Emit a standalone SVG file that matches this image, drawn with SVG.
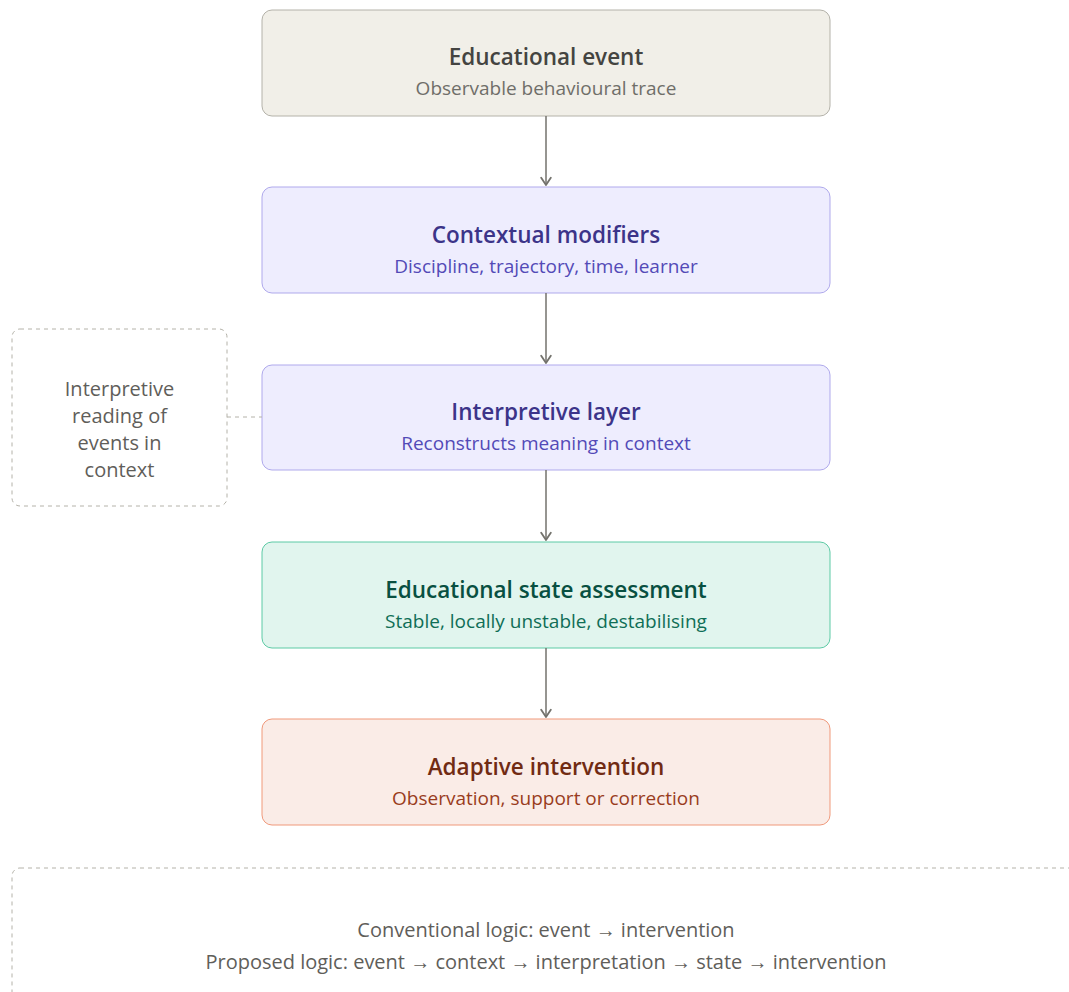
<svg xmlns="http://www.w3.org/2000/svg" width="1069" height="992" viewBox="0 0 1069 992">
  <defs>
    <marker id="arrow" viewBox="0 0 10 10" refX="8" refY="5" markerWidth="8" markerHeight="8" orient="auto-start-reverse">
      <path d="M2 1 L8 5 L2 9" fill="none" stroke="context-stroke" stroke-width="1.5" stroke-linecap="round" stroke-linejoin="round"/>
    </marker>
    <style>
      text { font-family: "Open Sans", "Noto Sans", "Liberation Sans", sans-serif; text-anchor: middle; }
      .t { font-size: 22.5px; font-weight: 600; }
      .s { font-size: 19px; font-weight: 400; }
      .box { stroke-width: 1; }
      .gray rect { fill: #f1efe8; stroke: #b4b2a9; }
      .gray .t { fill: #444441; } .gray .s { fill: #6f6e69; }
      .purple rect { fill: #eeedfe; stroke: #afa9ec; }
      .purple .t { fill: #3c3489; } .purple .s { fill: #534ab7; }
      .teal rect { fill: #e1f5ee; stroke: #5dcaa5; }
      .teal .t { fill: #085041; } .teal .s { fill: #0f6e56; }
      .coral rect { fill: #faece7; stroke: #f0997b; }
      .coral .t { fill: #712b13; } .coral .s { fill: #993c1d; }
      .edge { stroke: #73726c; stroke-width: 1.5; fill: none; }
      .dash { stroke: #b4b2a9; stroke-width: 1; fill: none; stroke-dasharray: 4 4; }
      .note { fill: #5f5e5a; font-size: 20px; }
    </style>
  </defs>

  <!-- flow nodes -->
  <g id="event" class="gray">
    <rect class="box" x="262" y="10" width="568" height="106" rx="10"/>
    <text class="t" x="546" y="65">Educational event</text>
    <text class="s" x="546" y="95">Observable behavioural trace</text>
  </g>
  <g id="modifiers" class="purple">
    <rect class="box" x="262" y="187" width="568" height="106" rx="10"/>
    <text class="t" x="546" y="243">Contextual modifiers</text>
    <text class="s" x="546" y="273">Discipline, trajectory, time, learner</text>
  </g>
  <g id="interpretive" class="purple">
    <rect class="box" x="262" y="365" width="568" height="105" rx="10"/>
    <text class="t" x="546" y="420">Interpretive layer</text>
    <text class="s" x="546" y="450">Reconstructs meaning in context</text>
  </g>
  <g id="state" class="teal">
    <rect class="box" x="262" y="542" width="568" height="106" rx="10"/>
    <text class="t" x="546" y="598">Educational state assessment</text>
    <text class="s" x="546" y="628">Stable, locally unstable, destabilising</text>
  </g>
  <g id="intervention" class="coral">
    <rect class="box" x="262" y="719" width="568" height="106" rx="10"/>
    <text class="t" x="546" y="775">Adaptive intervention</text>
    <text class="s" x="546" y="805">Observation, support or correction</text>
  </g>

  <!-- side annotation -->
  <g id="annotation">
    <rect class="dash" x="12" y="329" width="215" height="177" rx="8"/>
    <text class="note" x="119.5" y="396">Interpretive</text>
    <text class="note" x="119.5" y="423">reading of</text>
    <text class="note" x="119.5" y="450">events in</text>
    <text class="note" x="119.5" y="477">context</text>
  </g>

  <!-- summary panel -->
  <g id="summary">
    <rect class="dash" x="12" y="868" width="1080" height="160" rx="8"/>
    <text class="note" x="546" y="937">Conventional logic: event → intervention</text>
    <text class="note" x="546" y="969">Proposed logic: event → context → interpretation → state → intervention</text>
  </g>

  <!-- connectors -->
  <g id="connectors">
    <line class="edge" x1="546" y1="116" x2="546" y2="185" marker-end="url(#arrow)"/>
    <line class="edge" x1="546" y1="293" x2="546" y2="363" marker-end="url(#arrow)"/>
    <line class="edge" x1="546" y1="470" x2="546" y2="540" marker-end="url(#arrow)"/>
    <line class="edge" x1="546" y1="648" x2="546" y2="717" marker-end="url(#arrow)"/>
    <line class="dash" x1="227" y1="417" x2="262" y2="417"/>
  </g>
</svg>
